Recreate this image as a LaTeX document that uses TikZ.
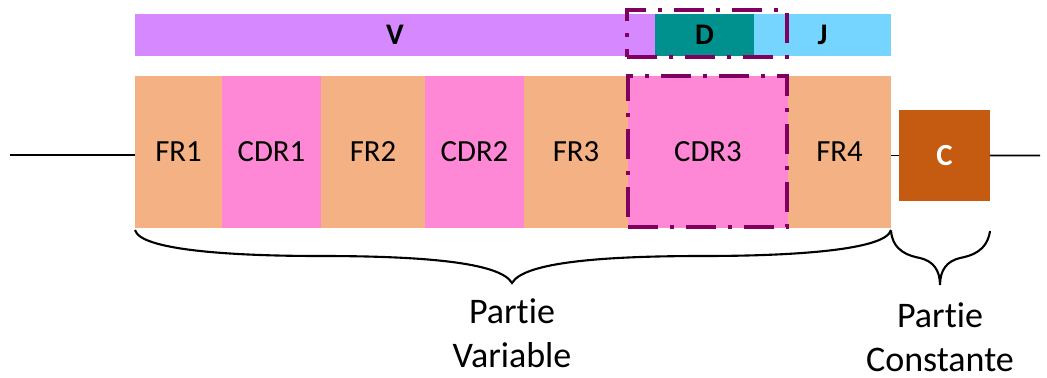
\documentclass[tikz,border=0pt]{standalone}
\usepackage{fontspec}
\setmainfont{Carlito}[Ligatures={NoCommon}]
\definecolor{vcol}{RGB}{214,137,255}
\definecolor{dcol}{RGB}{0,144,141}
\definecolor{jcol}{RGB}{117,213,255}
\definecolor{frcol}{RGB}{244,177,131}
\definecolor{cdrcol}{RGB}{255,136,214}
\definecolor{ccol}{RGB}{197,90,17}
\definecolor{dashcol}{RGB}{128,0,96}
\tikzset{
  seg/.style={inner sep=0pt, outer sep=0pt, anchor=north west, minimum height=3.04cm,
    font=\fontsize{17.5}{21}\selectfont},
  fr/.style={seg, fill=frcol},
  cdr/.style={seg, fill=cdrcol},
  gene/.style={inner sep=0pt, outer sep=0pt, anchor=north west, minimum height=0.84cm,
    font=\fontsize{17}{20}\selectfont\bfseries},
  dashbox/.style={draw=dashcol, line width=1.8pt, inner sep=0pt, outer sep=0pt, anchor=north west,
    dash pattern=on 17pt off 7pt on 2pt off 7pt},
  conn/.style={draw=black, line width=1.1pt},
  brace/.style={draw=black, line width=1.2pt},
  lbl/.style={align=center, font=\fontsize{20.5}{25}\selectfont, inner sep=0pt}
}
\begin{document}
\begin{tikzpicture}[x=0.02cm, y=-0.02cm]
\useasboundingbox (0,0) rectangle (1047,378);
% gene segments
\node[gene, fill=vcol, minimum width=10.4cm] (v) at (135,14) {V};
\node[gene, fill=dcol, minimum width=1.98cm] (d) at (655,14) {D};
\node[gene, fill=jcol, minimum width=2.74cm] (j) at (754,14) {J};
% variable region
\node[fr, minimum width=1.74cm] (fr1) at (135,76) {FR1\hspace{0.35cm}};
\node[cdr, minimum width=1.98cm] (cdr1) at (222,76) {CDR1};
\node[fr, minimum width=2.08cm] (fr2) at (321,76) {FR2};
\node[cdr, minimum width=1.98cm] (cdr2) at (425,76) {CDR2};
\node[fr, minimum width=2.08cm] (fr3) at (524,76) {FR3};
\node[cdr, minimum width=3.2cm] (cdr3) at (628,76) {CDR3};
\node[fr, minimum width=2.06cm] (fr4) at (788,76) {FR4};
% constant
\node[fill=ccol, text=white, inner sep=0pt, outer sep=0pt, anchor=north west,
  minimum width=1.82cm, minimum height=1.82cm, font=\fontsize{17.5}{20}\selectfont\bfseries] (c) at (899,110) {C};
% dashed boxes
\node[dashbox, minimum width=3.2cm, minimum height=0.94cm] (dbox) at (627,10) {};
\node[dashbox, minimum width=3.18cm, minimum height=3.02cm] (cbox) at (628,76) {};
% connectors
\coordinate (lstart) at (10,155);
\coordinate (rend) at (1040,155.5);
\draw[conn] (lstart) -- (lstart -| fr1.west);
\draw[conn] (fr4.east |- c.west) -- (c.west);
\draw[conn] (c.east) -- (rend);
% braces
\draw[brace] (135,230) .. controls (140,250) and (230,256) .. (320,256)
  .. controls (420,256) and (500,262) .. (512,283)
  .. controls (524,262) and (604,256) .. (704,256)
  .. controls (794,256) and (886,250) .. (891,230);
\draw[brace] (891,231) .. controls (893,252) and (910,256) .. (920,258)
  .. controls (933,261) and (940,270) .. (940,285)
  .. controls (940,270) and (947,261) .. (960,258)
  .. controls (970,256) and (987,252) .. (990,231);
% labels
\node[lbl, anchor=base] (pv) at (512,367) {Part\kern0pt ie\\Variable};
\node[lbl, anchor=base] (pc) at (940,371) {Part\kern0pt ie\\Constante};
\end{tikzpicture}
\end{document}
